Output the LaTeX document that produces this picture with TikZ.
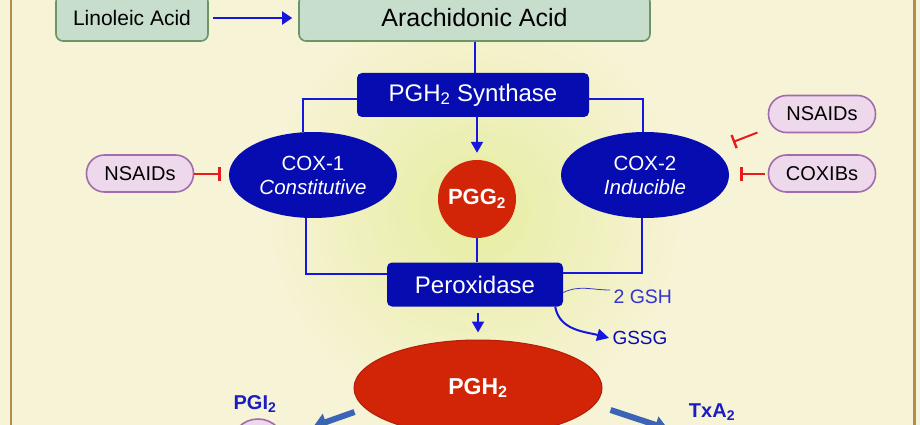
\documentclass[tikz,border=0pt]{standalone}
\usepackage{fontspec}
\setmainfont{Liberation Sans}
\usetikzlibrary{arrows.meta,shapes.geometric}

\definecolor{bgcream}{RGB}{247,243,214}
\definecolor{glow}{RGB}{230,237,160}
\definecolor{framebrown}{RGB}{184,138,74}
\definecolor{acidfill}{RGB}{200,222,204}
\definecolor{aciddraw}{RGB}{108,148,100}
\definecolor{enzblue}{RGB}{6,12,176}
\definecolor{flowblue}{RGB}{22,22,222}
\definecolor{prodred}{RGB}{210,36,6}
\definecolor{prodedge}{RGB}{178,30,8}
\definecolor{drugfill}{RGB}{238,216,236}
\definecolor{drugdraw}{RGB}{160,108,172}
\definecolor{inhred}{RGB}{232,28,28}
\definecolor{labblue}{RGB}{28,28,196}
\definecolor{gshblue}{RGB}{52,52,206}
\definecolor{fatblue}{RGB}{60,100,182}

\tikzset{
  acid/.style={draw=aciddraw,line width=1.6pt,fill=acidfill,rounded corners=7pt,inner sep=0pt,minimum height=46pt},
  enzyme/.style={fill=enzblue,text=white,rounded corners=5pt,inner sep=0pt,minimum height=44pt,font=\fontsize{24}{28}\selectfont},
  cox/.style={ellipse,fill=enzblue,text=white,inner sep=0pt,minimum width=168pt,minimum height=86pt,align=center,font=\fontsize{20.5}{24}\selectfont},
  product/.style={fill=prodred,text=white,inner sep=0pt,font=\bfseries\fontsize{22}{26}\selectfont},
  drug/.style={draw=drugdraw,line width=1.6pt,fill=drugfill,rounded corners=18pt,inner sep=0pt,minimum width=107pt,minimum height=37pt,font=\fontsize{20}{24}\selectfont},
  link/.style={flowblue,line width=2pt},
  flow/.style={flowblue,line width=2pt,-{Triangle[width=12pt,length=11pt]}},
  inhib/.style={inhred,line width=2pt,-{Bar[width=14pt,line width=2.4pt]}},
  fat/.style={fatblue,line width=6pt,-{Triangle[width=17pt,length=13pt]}},
  lab/.style={text=labblue,font=\bfseries\fontsize{20}{24}\selectfont},
}

\begin{document}
\begin{tikzpicture}[x=1pt,y=1pt]
\useasboundingbox (0,0) rectangle (920,-425);
\fill[bgcream] (0,0) rectangle (920,-425);
\shade[inner color=glow,outer color=bgcream] (474,-210) circle (210);
\draw[framebrown,line width=2.2pt] (11,10) rectangle (914.5,-440);

\node at (132,-18) [acid,minimum width=152pt,font=\fontsize{21}{25}\selectfont] (lino) {Linoleic Acid};
\node at (474.5,-18) [acid,minimum width=351pt,font=\fontsize{25}{30}\selectfont] (arach) {Arachidonic Acid};
\node at (473,-95) [enzyme,minimum width=232pt] (synth) {PGH\textsubscript{2} Synthase};
\node at (313,-175) [cox] (cox1) {COX-1\\\textit{Constitutive}};
\node at (645,-175) [cox] (cox2) {COX-2\\\textit{Inducible}};
\node at (477,-199) [product,circle,minimum size=78pt] (pgg) {PGG\textsubscript{2}};
\node at (475,-284.5) [enzyme,minimum width=176pt] (perox) {Peroxidase};
\node at (478,-388) [product,ellipse,draw=prodedge,line width=1pt,minimum width=248pt,minimum height=96pt,font=\bfseries\fontsize{23}{27}\selectfont] (pgh) {PGH\textsubscript{2}};

\node at (140,-173.5) [drug] (nsaidA) {NSAIDs};
\node at (822,-114) [drug] (nsaidB) {NSAIDs};
\node at (822,-173.5) [drug] (coxib) {COXIBs};

\node at (610,-297) [anchor=west,text=gshblue,font=\fontsize{19.5}{23}\selectfont] (gsh) {2 GSH};
\node at (609,-338) [anchor=west,text=enzblue,font=\fontsize{19}{23}\selectfont] (gssg) {GSSG};
\node at (255,-404) [lab] (pgilab) {PGI\textsubscript{2}};
\node at (712,-412) [lab] (txalab) {TxA\textsubscript{2}};
\node at (258,-446) [ellipse,draw=drugdraw,line width=1.6pt,fill=drugfill,minimum width=54pt,minimum height=54pt] (pgi) {};
\coordinate (txa) at (668,-429);
\coordinate (nsaidstop) at (733,-142);

\draw[flow,-{Triangle[width=13pt,length=10pt]},shorten <=4pt,shorten >=6pt] (lino) -- (arach);
\draw[link] (arach.south) -- (arach.south |- synth.north);
\draw[link] ([yshift=-4pt]synth.west) -| ([xshift=-10pt]cox1.north);
\draw[link] ([yshift=-4pt]synth.east) -| ([xshift=-2pt]cox2.north);
\draw[flow,shorten >=7pt] (pgg.north |- synth.south) -- (pgg.north);
\draw[link] (pgg.south) -- (pgg.south |- perox.north);
\draw[link] ([xshift=-7pt]cox1.south) |- ([yshift=11pt]perox.west);
\draw[link] ([xshift=-3pt]cox2.south) |- ([yshift=12pt]perox.east);
\draw[flow,shorten <=6pt,shorten >=7pt] (pgh.north |- perox.south) -- (pgh.north);
\draw[gshblue,line width=0.8pt] ([yshift=-8pt]perox.east) to[out=25,in=180] ([yshift=7pt]gsh.west);
\draw[flow,-{Triangle[width=12pt,length=12pt]}] ([xshift=-8pt]perox.south east) to[out=-80,in=165] (gssg.west);

\draw[inhib,shorten >=8pt] (nsaidA.east) -- (nsaidA.east -| cox1.west);
\draw[inhib,shorten <=3pt,shorten >=11pt] (coxib.west) -- (coxib.west -| cox2.east);
\draw[inhib,shorten <=11pt] (nsaidB.195) -- (nsaidstop);

\draw[fat,shorten >=31pt] ([shift={(1,-24)}]pgh.west) -- (pgi);
\draw[fat] ([shift={(8,-22)}]pgh.east) -- (txa);
\end{tikzpicture}
\end{document}
